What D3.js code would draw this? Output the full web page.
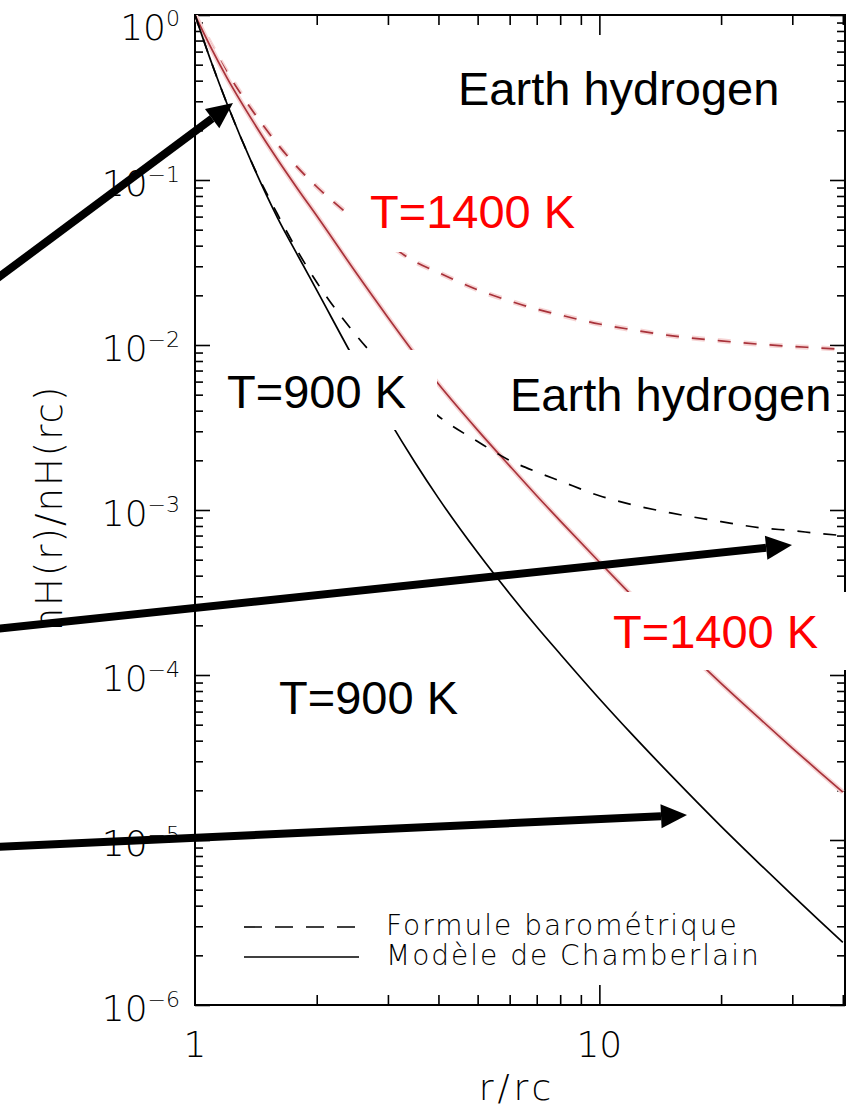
<!DOCTYPE html>
<html>
<head>
<meta charset="utf-8">
<script src="https://cdn.jsdelivr.net/npm/d3@7"></script>
<style>
body { margin: 0; background: #fff; }
svg { display: block; }
.idl { font-family: "DejaVu Sans", sans-serif; font-weight: 200; }
.note { font-family: "Liberation Sans", Arial, sans-serif; }
</style>
</head>
<body>
<div id="chart"></div>
<script>
// r/rc sample points and the four profiles
const rValues  = [1, 1.1, 1.2, 1.4, 1.6, 1.8, 2, 2.5, 3, 3.5, 4, 5, 6, 7, 8, 10, 12, 15, 20, 25, 30, 35, 40];
const baro900  = [1, 0.51, 0.29, 0.119, 0.062, 0.0365, 0.024, 0.0115, 0.0070, 0.0049, 0.0037, 0.0026, 0.0020, 0.0017, 0.0015, 0.00122, 0.00108, 0.00096, 0.00085, 0.00078, 0.00075, 0.00072, 0.00070];
const cham900  = [1, 0.51, 0.29, 0.118, 0.059, 0.0345, 0.0215, 0.00785, 0.00359, 0.00194, 0.00118, 0.000552, 0.000311, 0.000196, 0.000134, 0.0000718, 0.0000441, 0.0000248, 0.0000121, 0.0000071, 0.00000463, 0.00000325, 0.0000024];
const baro1400 = [1, 0.65, 0.45, 0.255, 0.165, 0.118, 0.091, 0.057, 0.041, 0.032, 0.0275, 0.0216, 0.0185, 0.0165, 0.0152, 0.0134, 0.0124, 0.0114, 0.0106, 0.0101, 0.0098, 0.0096, 0.0094];
const cham1400 = [1, 0.621, 0.416, 0.221, 0.133, 0.0873, 0.0607, 0.0275, 0.0147, 0.0088, 0.0058, 0.00305, 0.00185, 0.00122, 0.00086, 0.000484, 0.000305, 0.000175, 0.000089, 0.000054, 0.0000361, 0.0000259, 0.0000195];

const yTickExps = [0, -1, -2, -3, -4, -5, -6];
const xTickLabels = [1, 10];
const legendLabels = ["Formule barométrique", "Modèle de Chamberlain"];

const svgWidth = 854;
const svgHeight = 1107;
const marginTop = 15;
const marginLeft = 195;
const width = 650;
const height = 990;

var svg = d3.select("#chart")
  .append("svg")
    .attr("width", svgWidth)
    .attr("height", svgHeight);

var g = svg.append("g")
    .attr("transform", `translate(${marginLeft}, ${marginTop})`);

var x = d3.scaleLog([1, 40.5], [0, width]);
var y = d3.scaleLog([1e-6, 1], [height, 0]);

// tick positions
var xMinor = [2, 3, 4, 5, 6, 7, 8, 9, 20, 30, 40];
var xMajor = [10];
var yMinor = [];
for (let e = -6; e < 0; e++) {
  for (let k = 2; k <= 9; k++) yMinor.push(k * Math.pow(10, e));
}
var yMajor = yTickExps.map(e => Math.pow(10, e));

function tickAxis(axis, values, size) {
  return axis.tickValues(values).tickSize(-size).tickFormat("");
}
function styleTicks(sel) {
  sel.select(".domain").remove();
  sel.selectAll(".tick line").attr("stroke", "#000").attr("stroke-width", 1.6);
}

// bottom / top
g.append("g").attr("transform", `translate(0,${height})`).call(tickAxis(d3.axisBottom(x), xMinor, 10)).call(styleTicks);
g.append("g").attr("transform", `translate(0,${height})`).call(tickAxis(d3.axisBottom(x), xMajor, 20)).call(styleTicks);
g.append("g").call(tickAxis(d3.axisTop(x), xMinor, 10)).call(styleTicks);
g.append("g").call(tickAxis(d3.axisTop(x), xMajor, 20)).call(styleTicks);
// left / right
g.append("g").call(tickAxis(d3.axisLeft(y), yMinor, 8)).call(styleTicks);
g.append("g").call(tickAxis(d3.axisLeft(y), yMajor, 15)).call(styleTicks);
g.append("g").attr("transform", `translate(${width},0)`).call(tickAxis(d3.axisRight(y), yMinor, 8)).call(styleTicks);
g.append("g").attr("transform", `translate(${width},0)`).call(tickAxis(d3.axisRight(y), yMajor, 15)).call(styleTicks);

// frame
g.append("rect")
  .attr("width", width)
  .attr("height", height)
  .attr("fill", "none")
  .attr("stroke", "#000")
  .attr("stroke-width", 2);

// tick labels
g.selectAll(".xlab")
  .data(xTickLabels)
  .join("text")
  .attr("class", "idl")
  .attr("x", d => x(d))
  .attr("y", height + 52)
  .attr("text-anchor", "middle")
  .style("font-size", "36px")
  .attr("fill", "#000")
  .text(d => d);

var ylab = g.selectAll(".ylab")
  .data(yTickExps)
  .join("text")
  .attr("class", "idl")
  .attr("x", -15)
  .attr("y", d => d === 0 ? y(1) + 25 : y(Math.pow(10, d)) + 16)
  .attr("text-anchor", "end")
  .style("font-size", "36px")
  .attr("fill", "#000");
ylab.append("tspan").text("10");
ylab.append("tspan")
  .attr("dy", -14)
  .style("font-size", "22px")
  .text(d => d === 0 ? "0" : "\u2212" + (-d));

// axis titles
svg.append("text")
  .attr("class", "idl")
  .attr("x", 517)
  .attr("y", 1100)
  .attr("text-anchor", "middle")
  .style("font-size", "36px")
  .style("letter-spacing", "4px")
  .text("r/rc");

svg.append("text")
  .attr("class", "idl")
  .attr("transform", "translate(62,508) rotate(-90)")
  .attr("text-anchor", "middle")
  .style("font-size", "37px")
  .style("letter-spacing", "2px")
  .text("nH(r)/nH(rc)");

// curves
svg.append("clipPath").attr("id", "plotClip")
  .append("rect").attr("width", width).attr("height", height);

var line = d3.line()
  .x(d => x(d[0]))
  .y(d => y(d[1]))
  .curve(d3.curveMonotoneX);

var series = [
  { values: baro1400, color: "#a8323a", dash: "13,13", halo: true },
  { values: cham1400, color: "#a8323a", dash: null, halo: true },
  { values: baro900, color: "#000", dash: "13,13", halo: false },
  { values: cham900, color: "#000", dash: null, halo: false }
];

var curves = g.append("g").attr("clip-path", "url(#plotClip)");
series.forEach(s => {
  var pts = rValues.map((r, i) => [r, s.values[i]]);
  if (s.halo) {
    curves.append("path")
      .datum(pts)
      .attr("fill", "none")
      .attr("stroke", "#f6d4d4")
      .attr("stroke-width", 5)
      .attr("stroke-dasharray", s.dash)
      .attr("d", line);
  }
  curves.append("path")
    .datum(pts)
    .attr("fill", "none")
    .attr("stroke", s.color)
    .attr("stroke-width", 1.7)
    .attr("stroke-dasharray", s.dash)
    .attr("d", line);
});

// legend
var legend = g.append("g").attr("transform", "translate(49, 920)");
legendLabels.forEach((label, i) => {
  legend.append("line")
    .attr("x1", 0).attr("x2", 115)
    .attr("y1", i * 30 - 8).attr("y2", i * 30 - 8)
    .attr("stroke", "#000")
    .attr("stroke-width", 1.6)
    .attr("stroke-dasharray", i === 0 ? "18,13" : null);
  legend.append("text")
    .attr("class", "idl")
    .attr("x", 142)
    .attr("y", i * 30)
    .style("font-size", "28px")
    .style("letter-spacing", "2px")
    .attr("fill", "#000")
    .text(label);
});

// pasted text boxes from the slide
var boxes = [
  [347, 175, 243, 77],
  [215, 350, 222, 80],
  [595, 592, 259, 78]
];
svg.selectAll(".box")
  .data(boxes)
  .join("rect")
  .attr("x", d => d[0]).attr("y", d => d[1])
  .attr("width", d => d[2]).attr("height", d => d[3])
  .attr("fill", "#fff");

var notes = [
  { text: "Earth hydrogen", x: 458, y: 105, color: "#000" },
  { text: "T=1400 K", x: 370, y: 228, color: "#ff0000" },
  { text: "T=900 K", x: 227, y: 408, color: "#000" },
  { text: "Earth hydrogen", x: 510, y: 411, color: "#000" },
  { text: "T=1400 K", x: 613, y: 648, color: "#ff0000" },
  { text: "T=900 K", x: 279, y: 714, color: "#000" }
];
svg.selectAll(".note")
  .data(notes)
  .join("text")
  .attr("class", "note")
  .attr("x", d => d.x)
  .attr("y", d => d.y)
  .attr("fill", d => d.color)
  .style("font-size", "47px")
  .text(d => d.text);

// arrows
function arrow(x1, y1, x2, y2) {
  var a = Math.atan2(y2 - y1, x2 - x1);
  var len = 26, half = 12;
  var bx = x2 - len * Math.cos(a), by = y2 - len * Math.sin(a);
  svg.append("line")
    .attr("x1", x1).attr("y1", y1)
    .attr("x2", bx).attr("y2", by)
    .attr("stroke", "#000")
    .attr("stroke-width", 8);
  var px = -Math.sin(a) * half, py = Math.cos(a) * half;
  svg.append("polygon")
    .attr("points", `${x2},${y2} ${bx + px},${by + py} ${bx - px},${by - py}`)
    .attr("fill", "#000");
}
arrow(-5, 280, 233, 103);
arrow(-5, 629, 792, 545);
arrow(-5, 847, 687, 815);
</script>
</body>
</html>
